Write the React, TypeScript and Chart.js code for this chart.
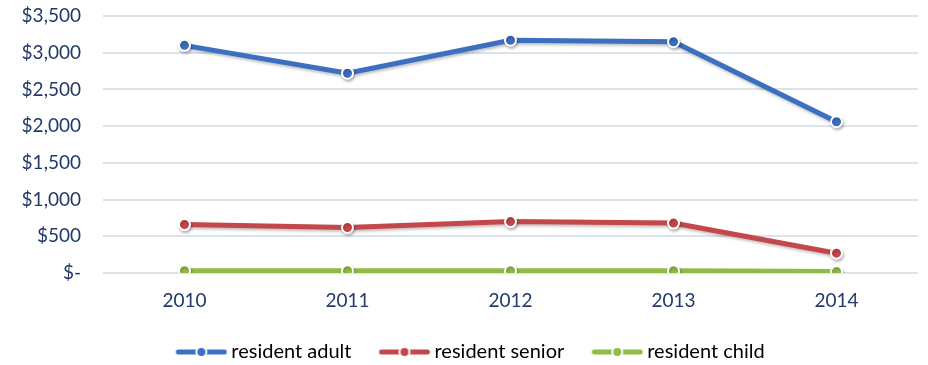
import React, { useEffect, useRef } from "react";
import { Chart, registerables } from "chart.js";

Chart.register(...registerables);

const categories = ["2010", "2011", "2012", "2013", "2014"];
const residentAdult = [3100, 2720, 3170, 3150, 2060];
const residentSenior = [660, 620, 700, 680, 270];
const residentChild = [30, 30, 30, 30, 20];
const yTicks = [0, 500, 1000, 1500, 2000, 2500, 3000, 3500];

const seriesNames = ["resident adult", "resident senior", "resident child"];
const seriesColors = ["#3b6fbf", "#c4474a", "#92bb45"];

const FONT = "Lato, 'Open Sans', sans-serif";
const TEXT = "#22396a";

function fmt(v: number): string {
  if (v === 0) return "$-";
  return "$" + v.toLocaleString("en-US");
}

// legend marker image: 80 wide, visible line+dot drawn from 28 to 80
function legendImage(color: string): HTMLCanvasElement {
  const c = document.createElement("canvas");
  c.width = 80;
  c.height = 14;
  const ctx = c.getContext("2d")!;
  ctx.strokeStyle = color;
  ctx.lineWidth = 5;
  ctx.lineCap = "round";
  ctx.beginPath();
  ctx.moveTo(31, 7);
  ctx.lineTo(77, 7);
  ctx.stroke();
  ctx.beginPath();
  ctx.arc(54, 7, 5, 0, Math.PI * 2);
  ctx.fillStyle = color;
  ctx.fill();
  ctx.lineWidth = 2;
  ctx.strokeStyle = "#ffffff";
  ctx.stroke();
  return c;
}

const shadowPlugin = {
  id: "lineShadow",
  beforeDatasetDraw(chart: any) {
    const ctx = chart.ctx;
    ctx.save();
    ctx.shadowColor = "rgba(0,0,0,0.25)";
    ctx.shadowBlur = 3;
    ctx.shadowOffsetX = 1;
    ctx.shadowOffsetY = 2;
  },
  afterDatasetDraw(chart: any) {
    chart.ctx.restore();
  },
};

export default function App() {
  const ref = useRef<HTMLCanvasElement | null>(null);

  useEffect(() => {
    document.body.style.margin = "0";
    const canvas = ref.current;
    if (!canvas) return;
    const values = [residentAdult, residentSenior, residentChild];
    const images = seriesColors.map((c) => legendImage(c));
    const chart = new Chart(canvas, {
      type: "line",
      data: {
        labels: categories,
        datasets: values.map((d, i) => ({
          label: seriesNames[i],
          data: d,
          borderColor: seriesColors[i],
          backgroundColor: seriesColors[i],
          borderWidth: 5,
          pointRadius: 5.5,
          pointBorderWidth: 2,
          pointBorderColor: "#ffffff",
          pointBackgroundColor: seriesColors[i],
          tension: 0,
          fill: false,
        })),
      },
      options: {
        animation: false,
        responsive: false,
        maintainAspectRatio: false,
        layout: { autoPadding: false, padding: { top: 16, right: 10, bottom: -7, left: 0 } },
        plugins: {
          tooltip: { enabled: false },
          legend: {
            position: "bottom",
            labels: {
              usePointStyle: true,
              pointStyleWidth: 68,
              boxHeight: 14,
              padding: 5,
              color: TEXT,
              font: { family: FONT, size: 20 },
              generateLabels: () =>
                seriesNames.map((n, i) => ({
                  text: n,
                  pointStyle: images[i] as any,
                  fillStyle: seriesColors[i],
                  strokeStyle: seriesColors[i],
                  lineWidth: 0,
                  hidden: false,
                  datasetIndex: i,
                })),
            },
          },
        },
        scales: {
          x: {
            offset: true,
            grid: { display: false, drawTicks: false },
            border: { display: false },
            ticks: {
              color: TEXT,
              font: { family: FONT, size: 19 },
              padding: 16,
            },
            afterFit: (s: any) => {
              s.height = 64;
            },
          },
          y: {
            min: 0,
            max: 3500,
            grid: { color: "#dbe3ed", lineWidth: 2, drawTicks: false },
            border: { display: false },
            afterBuildTicks: (s: any) => {
              s.ticks = yTicks.map((v) => ({ value: v }));
            },
            ticks: {
              color: TEXT,
              font: { family: FONT, size: 19 },
              padding: 22,
              callback: (v: any) => fmt(Number(v)),
            },
            afterFit: (s: any) => {
              s.width = 103;
              s.paddingTop = 0;
              s.paddingBottom = 0;
            },
          },
        },
      },
      plugins: [shadowPlugin],
    });
    return () => chart.destroy();
  }, []);

  return (
    <div style={{ width: 928, height: 365, background: "#ffffff" }}>
      <canvas ref={ref} width={928} height={365} style={{ display: "block" }} />
    </div>
  );
}
